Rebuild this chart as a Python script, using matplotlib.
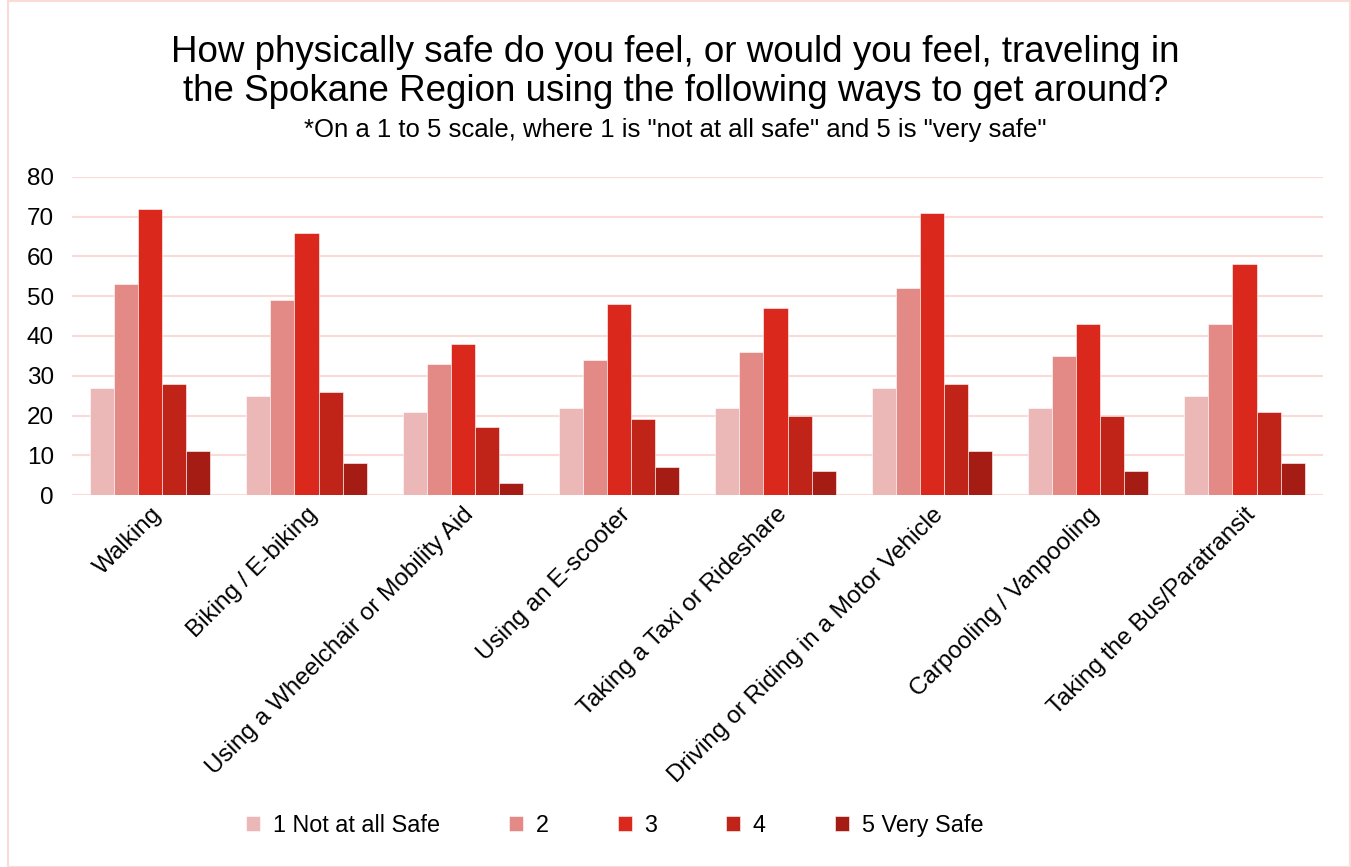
import numpy as np
import matplotlib.pyplot as plt
from matplotlib.patches import Rectangle

plt.rcParams['font.family'] = ['Liberation Sans', 'DejaVu Sans']

modes = ['Walking', 'Biking / E-biking', 'Using a Wheelchair or Mobility Aid',
         'Using an E-scooter', 'Taking a Taxi or Rideshare',
         'Driving or Riding in a Motor Vehicle', 'Carpooling / Vanpooling',
         'Taking the Bus/Paratransit']
ratings = ['1 Not at all Safe', '2', '3', '4', '5 Very Safe']
counts_1 = [27, 25, 21, 22, 22, 27, 22, 25]
counts_2 = [53, 49, 33, 34, 36, 52, 35, 43]
counts_3 = [72, 66, 38, 48, 47, 71, 43, 58]
counts_4 = [28, 26, 17, 19, 20, 28, 20, 21]
counts_5 = [11, 8, 3, 7, 6, 11, 6, 8]
series = [counts_1, counts_2, counts_3, counts_4, counts_5]
colors = ['#ECB7B7', '#E38986', '#DA291C', '#C02318', '#A51C14']

fig = plt.figure(figsize=(13.51, 8.67), dpi=100)
ax = fig.add_axes([0.0533, 0.429, 0.9257, 0.367])

x = np.arange(len(modes))
w = 0.154
for i, (vals, c) in enumerate(zip(series, colors)):
    ax.bar(x + (i - 2) * w, vals, w, color=c, edgecolor='white', linewidth=0.4,
           label=ratings[i], zorder=3)

ax.set_xlim(-0.5, len(modes) - 0.5)
ax.set_ylim(0, 80)
ax.set_yticks(range(0, 81, 10))
ax.yaxis.grid(True, color='#FADBD8', linewidth=1.5, zorder=0)
for s in ax.spines.values():
    s.set_visible(False)
ax.tick_params(axis='both', length=0, labelsize=17.5, colors='#000000')
ax.tick_params(axis='y', pad=13)
ax.tick_params(axis='x', pad=6)
ax.set_xticks(x)
ax.set_xticklabels(modes, rotation=45, ha='right', rotation_mode='anchor')

# two-line title plus the scale note underneath
fig.text(0.5, 0.940, 'How physically safe do you feel, or would you feel, traveling in',
         ha='center', va='center', fontsize=26.5)
fig.text(0.5, 0.895, 'the Spokane Region using the following ways to get around?',
         ha='center', va='center', fontsize=26.5)
fig.text(0.5, 0.850, '*On a 1 to 5 scale, where 1 is "not at all safe" and 5 is "very safe"',
         ha='center', va='center', fontsize=18.5)

fig.legend(loc='center', bbox_to_anchor=(0.455, 0.048), ncol=5, frameon=False,
           fontsize=16.8, handlelength=0.6, handleheight=0.6, columnspacing=2.95,
           handletextpad=0.55)

fig.patches.append(Rectangle((0.006, 0.0), 0.993, 0.999, transform=fig.transFigure,
                             fill=False, edgecolor='#FADBD8', linewidth=1.5))

fig.savefig('out.png', dpi=100)
